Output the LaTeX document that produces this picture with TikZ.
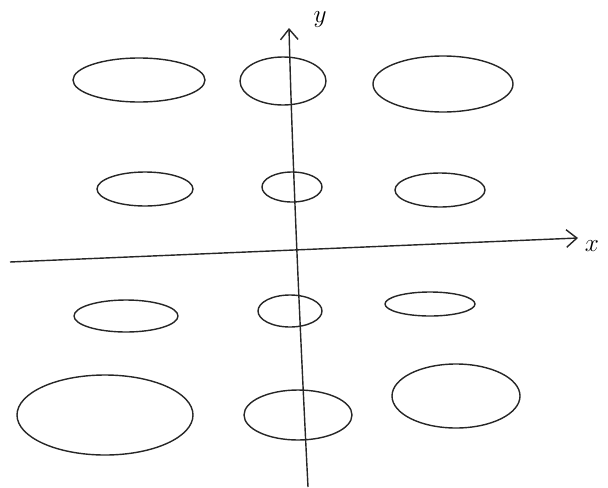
\documentclass[tikz,border=0pt]{standalone}
\usetikzlibrary{arrows.meta}
\begin{document}
\begin{tikzpicture}[x=0.02cm,y=-0.02cm,>={Straight Barb[length=6pt,width=10pt]},
		asse/.style={line width=0.8pt, black!85},
		nuvola/.style={line width=0.8pt, black!85},
		etichetta/.style={font=\Large, inner sep=1pt},
		]
		\useasboundingbox (0,0) rectangle (608,487);
		% ── assi ──
		\coordinate (xs) at (10,262);
		\coordinate (xe) at (578,238);
		\coordinate (ys) at (308,487);
		\coordinate (ye) at (289,28);
		\draw[->, asse] (xs) -- (xe);
		\draw[->, asse] (ys) .. controls (300,330) and (292,150) .. (ye);
		\node[etichetta] (lx) at (592,246) {$x$};
		\node[etichetta] (ly) at (320,20) {$y$};
		% ── ellissi (centro x, centro y, semiasse x, semiasse y) ──
		\foreach \cx/\cy/\ax/\ay in {139/80/66/22, 283/81/43/24, 443/84/70/28,
			145/189/48/17, 292/187/30/15, 440/190/45/17,
			126/316/52/16, 290/311/32/16, 430/304/45/12,
			105/415/88/40, 298/415/54/25, 456/396/64/32}
		\draw[nuvola] (\cx,\cy) ellipse [x radius=\ax, y radius=\ay];
	\end{tikzpicture}
\end{document}
